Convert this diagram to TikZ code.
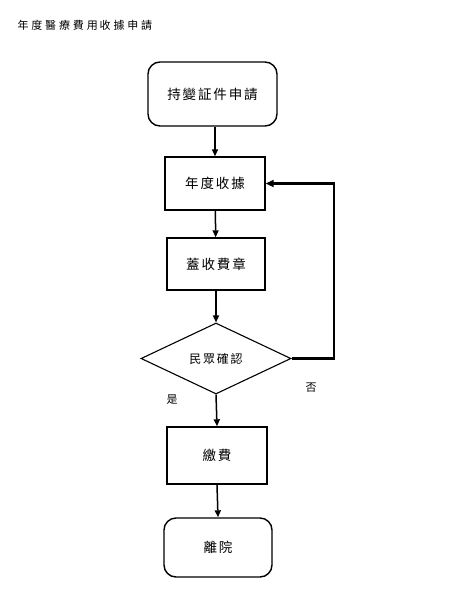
\documentclass[tikz,border=0pt]{standalone}
\usepackage{fontspec}
\setmainfont{Noto Sans CJK TC}
\newfontfamily\cjkwide[LetterSpace=14]{Noto Sans CJK TC}
\newfontfamily\cjktitle[LetterSpace=26]{Noto Sans CJK TC}
\usetikzlibrary{shapes.geometric,arrows.meta}
\begin{document}
\begin{tikzpicture}[x=1pt,y=-1pt,
  box/.style={draw,line width=1.4pt,inner sep=0pt,font=\fontsize{13.5}{15}\selectfont},
  rbox/.style={box,rounded corners=12pt},
  dec/.style={draw,line width=1.1pt,diamond,aspect=2.1,inner sep=0pt,font=\fontsize{12}{14}\selectfont},
  arr/.style={line width=1.5pt,-{Triangle[length=7pt,width=6pt]}},
  fb/.style={line width=2.6pt,-{Triangle[length=8pt,width=7pt]}},
  lbl/.style={font=\fontsize{11}{13}\selectfont}]
\useasboundingbox (0,0) rectangle (456,600);
\node[anchor=west,font=\fontsize{11}{13}\selectfont] (title) at (14,25) {\cjktitle 年度醫療費用\,收據申請};
\node[rbox,minimum width=129pt,minimum height=64pt] (n1) at (212.5,94) {\cjkwide 持變証件申請};
\node[box,minimum width=100pt,minimum height=53pt] (n2) at (215,183.5) {\cjkwide 年度收據};
\node[box,minimum width=98pt,minimum height=52pt] (n3) at (216,264) {\cjkwide 蓋收費章};
\node[dec,minimum width=150pt,minimum height=71pt] (n4) at (216,358.5) {\cjkwide 民眾確認};
\node[box,minimum width=100pt,minimum height=57pt] (n5) at (217,455.5) {\cjkwide 繳費};
\node[rbox,minimum width=108pt,minimum height=59pt] (n6) at (218,547.5) {\cjkwide 離院};
\coordinate (c1) at (334,358.5);
\coordinate (c2) at (334,183.5);
\draw[arr] (n1.south -| n2.north) -- (n2.north);
\draw[arr] (n2) -- (n3);
\draw[arr] (n3.south) -- (n4.north);
\draw[arr] (n4.south) -- (n5.north);
\draw[arr] (n5.south) -- (n6.north);
\draw[fb] (n4.east) -- (c1) -- (c2) -- (n2.east);
\node[lbl] (yes) at (172,400) {是};
\node[lbl] (no) at (311,388) {否};
\end{tikzpicture}
\end{document}
